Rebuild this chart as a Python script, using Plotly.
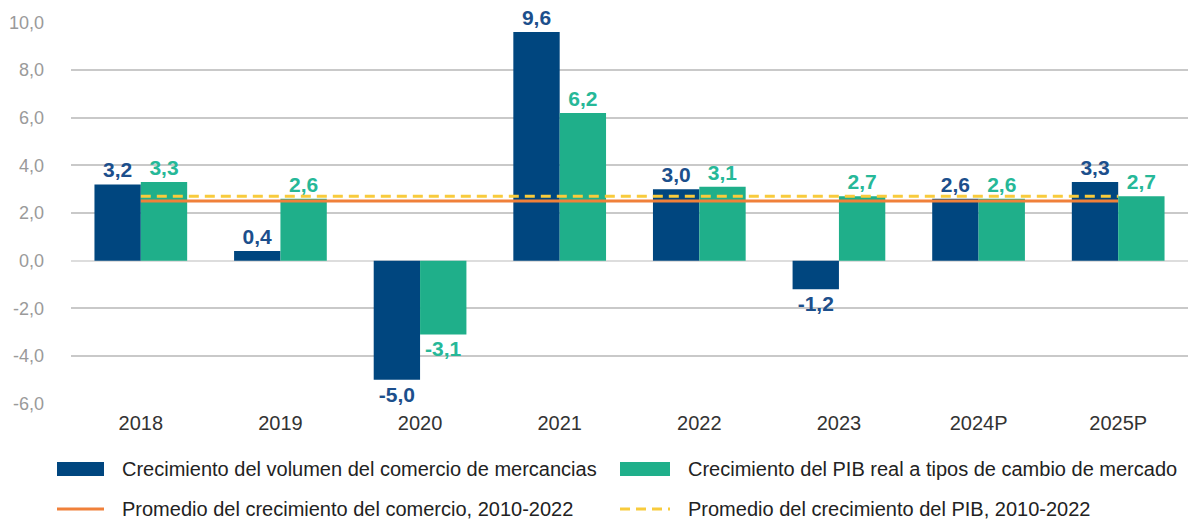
import plotly.graph_objects as go

categories = ["2018", "2019", "2020", "2021", "2022", "2023", "2024P", "2025P"]
trade_growth = [3.2, 0.4, -5.0, 9.6, 3.0, -1.2, 2.6, 3.3]
gdp_growth = [3.3, 2.6, -3.1, 6.2, 3.1, 2.7, 2.6, 2.7]
avg_trade = 2.5
avg_gdp = 2.7
y_ticks = [-6, -4, -2, 0, 2, 4, 6, 8, 10]
y_tick_labels = ["-6,0", "-4,0", "-2,0", "0,0", "2,0", "4,0", "6,0", "8,0", "10,0"]

names = [
    "Crecimiento del volumen del comercio de mercancias",
    "Crecimiento del PIB real a tipos de cambio de mercado",
    "Promedio del crecimiento del comercio, 2010-2022",
    "Promedio del crecimiento del PIB, 2010-2022",
]

DARK = "#00467F"
GREEN = "#1FAF8A"
ORANGE = "#F0803A"
YELLOW = "#F8CB3C"
FONT = "Liberation Sans"

fig = go.Figure()
fig.add_trace(go.Bar(
    x=categories, y=trade_growth, name=names[0], marker=dict(color=DARK, line=dict(width=0)),
    texttemplate="<b>%{y:.1f}</b>", textposition="outside",
    textfont=dict(family=FONT, size=21, color="#1C4F8C"), cliponaxis=False,
))
fig.add_trace(go.Bar(
    x=categories, y=gdp_growth, name=names[1], marker=dict(color=GREEN, line=dict(width=0)),
    texttemplate="<b>%{y:.1f}</b>", textposition="outside",
    textfont=dict(family=FONT, size=21, color="#26B898"), cliponaxis=False,
))
fig.add_trace(go.Scatter(
    x=categories, y=[avg_trade] * len(categories), name=names[2], mode="lines",
    line=dict(color=ORANGE, width=3),
))
fig.add_trace(go.Scatter(
    x=categories, y=[avg_gdp] * len(categories), name=names[3], mode="lines",
    line=dict(color=YELLOW, width=3, dash="10px,6px"),
))

# Custom legend (paper coordinates relative to plot area)
L, W = 71, 1117
T, H = 22, 382
def px(x):
    return (x - L) / W
def py(y):
    return (T + H - y) / H

shapes = []
annotations = []
legend_items = [
    (57, 104, 469, "rect", DARK, names[0]),
    (620, 670, 469, "rect", GREEN, names[1]),
    (57, 104, 509, "line", ORANGE, names[2]),
    (620, 670, 509, "dash", YELLOW, names[3]),
]
for x0, x1, yc, kind, col, label in legend_items:
    if kind == "rect":
        shapes.append(dict(type="rect", xref="paper", yref="paper", x0=px(x0), x1=px(x1),
                           y0=py(yc + 7), y1=py(yc - 7), fillcolor=col, line=dict(width=0)))
    else:
        shapes.append(dict(type="line", xref="paper", yref="paper", x0=px(x0), x1=px(x1),
                           y0=py(yc), y1=py(yc),
                           line=dict(color=col, width=3, dash="solid" if kind == "line" else "10px,6px")))
    annotations.append(dict(xref="paper", yref="paper", x=px(x1 + 16), y=py(yc), text=label,
                            showarrow=False, xanchor="left", yanchor="middle",
                            font=dict(family=FONT, size=20, color="#222222")))

fig.update_layout(
    width=1188, height=522,
    margin=dict(l=L, r=0, t=T, b=522 - T - H, autoexpand=False),
    paper_bgcolor="white", plot_bgcolor="white",
    barmode="group", bargap=0.336, bargroupgap=0,
    separators=",.",
    showlegend=False,
    shapes=shapes, annotations=annotations,
    font=dict(family=FONT),
)
fig.update_xaxes(
    type="category", showgrid=False, showline=False, ticks="", automargin=False,
    ticklabelstandoff=5,
    tickfont=dict(family=FONT, size=20, color="#333333"),
)
fig.update_yaxes(
    range=[-6.02, 10.02], tickvals=y_ticks, ticktext=y_tick_labels, automargin=False,
    showgrid=True, gridcolor="#C9C9C9", gridwidth=1.5,
    zeroline=True, zerolinecolor="#DDDDDD", zerolinewidth=1.5,
    showline=False, ticks="", ticklabelstandoff=26,
    tickfont=dict(family=FONT, size=18, color="#9A9A9A"),
)

fig.write_html("out.html", config={"displayModeBar": False},
               post_script="document.body.style.margin='0';")
